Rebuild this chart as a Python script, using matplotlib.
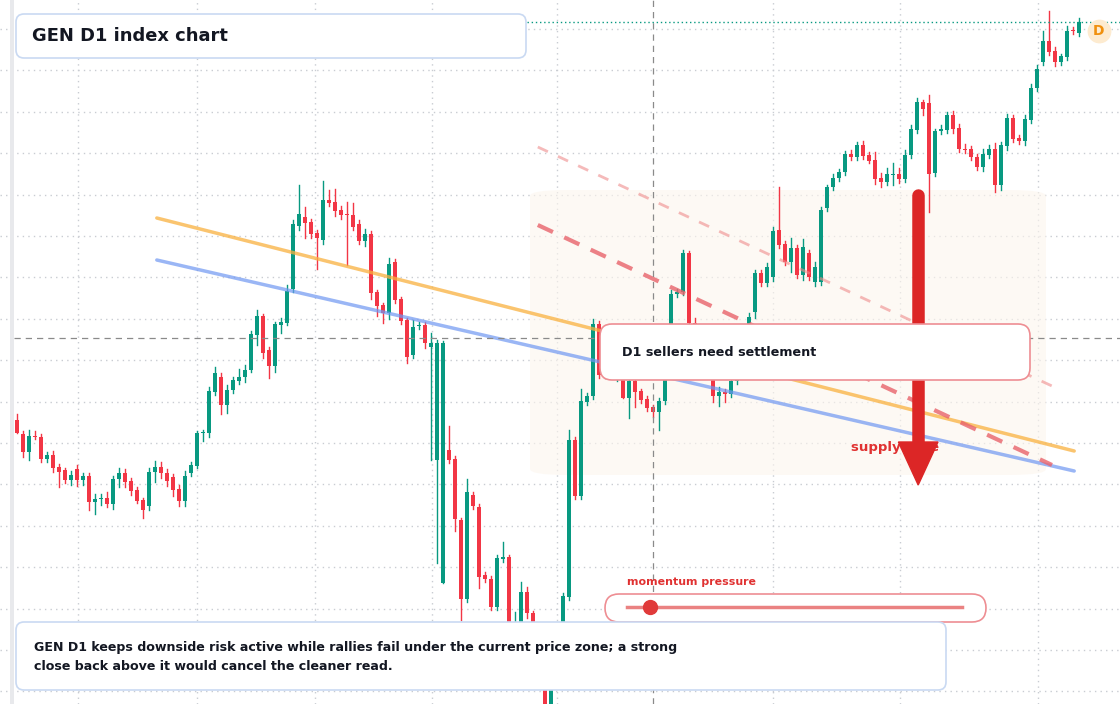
import numpy as np
import matplotlib.pyplot as plt
from matplotlib.patches import FancyBboxPatch, Rectangle

# candle data, one entry per day (price units)
opens = [284,270,252,268,267,245,249,237,234,224, 235,224,228,202,205,206,200,225,231,223,
         214,204,198,232,237,231,227,215,203,231, 238,271,271,312,327,299,314,323,327,334,
         369,388,354,338,379,381,415,478,487,482, 471,464,504,502,494,490,489,480,463,470,
         412,399,391,442,405,384,349,378,379,357, 244,121,254,245,184,105,209,197,129,125,
         97,145,147,74,82,112,91,51,21,-5, 25,67,107,264,208,302,308,380,329,348,
         331,348,306,323,313,305,297,292,303,371, 410,412,451,381,375,347,329,308,312,310,
         323,358,367,392,431,421,427,474,460,442, 456,429,451,422,422,496,517,526,532,550,
         547,559,549,544,526,522,529,530,525,549, 574,602,601,531,573,574,589,576,555,555,
         547,537,549,555,519,558,586,566,563,584, 616,642,663,653,642,647,674,671]
closes = [271,252,268,267,245,249,236,232,224,229, 224,228,202,205,206,200,225,231,222,213,
          203,194,232,237,231,223,214,203,228,239, 271,272,313,331,299,314,324,327,334,370,
          388,351,338,380,382,413,480,490,481,470, 466,504,501,493,489,489,477,463,470,411,
          398,391,440,404,383,347,377,379,361,361, 361,361,244,185,105,212,198,127,125,97,
          146,147,74,82,112,91,58,20,0,25, 67,108,264,208,303,308,380,329,348,331,
          332,306,323,312,304,296,292,303,371,410, 412,451,381,375,331,329,308,312,310,323,
          358,367,387,431,421,437,473,459,442,456, 429,457,427,437,494,517,526,532,550,547,
          559,548,543,525,522,530,529,525,549,575, 602,595,530,573,575,589,575,555,554,547,
          537,550,555,519,559,586,565,563,585,616, 635,663,652,642,648,673,673,682]
wick_up = [6,3,6,5,3,3,4,3,2,4, 4,3,3,5,4,6,3,5,4,3, 3,2,4,6,5,4,3,4,5,3, 2,2,4,6,4,5,3,8,5,3,
           6,2,3,2,4,6,4,29,10,3, 3,19,10,13,4,12,12,4,5,3, 2,2,6,3,2,2,7,3,3,10,
           3,2,24,3,2,13,3,3,3,3, 3,15,2,10,10,5,2,2,2,2, 4,3,10,3,12,3,5,3,3,4,
           8,4,3,3,2,3,2,3,3,4, 3,3,2,5,4,4,3,5,3,4, 3,3,4,3,3,4,4,43,3,10,
           3,8,3,5,3,2,4,3,3,4, 3,4,3,8,5,6,12,6,5,4, 4,2,8,2,4,3,4,4,5,3,
           3,5,4,6,3,4,3,3,4,4, 4,10,30,4,2,5,3,4]
wick_dn = [0,5,8,2,3,3,4,15,3,5, 6,5,8,12,6,3,5,8,5,4, 2,8,4,10,5,5,6,5,5,3, 2,8,4,3,9,8,3,3,5,2,
           10,5,12,6,8,2,3,4,15,4, 31,4,3,5,4,50,3,3,5,6, 10,10,6,3,3,6,3,3,5,113,
           103,0,3,12,21,3,3,11,3,3, 3,3,15,6,3,5,3,3,3,3, 3,3,3,3,3,3,3,3,3,3,
           8,0,20,15,3,3,5,18,3,3, 3,3,10,3,3,3,6,10,8,3, 3,3,3,6,3,3,4,3,3,10,
           3,5,3,4,3,3,3,3,3,3, 3,3,2,5,5,3,10,4,3,3, 3,6,38,3,3,3,4,3,3,3,
           3,4,3,7,5,4,3,3,4,3, 3,3,3,4,3,3,3,3]

grid_x = [10.2, 30, 49.7, 69.2, 90, 126, 147.2, 170.2]
grid_y = [675 - 41.4 * k for k in range(17)]
cross_i, cross_p = 106, 366
last_price = 682

# drawings (index, price)
orange_line = ([23.3, 176.2], [486, 253])
blue_line = ([23.3, 176.2], [444, 233])
red_upper = ([86.8, 172.5], [557, 318])
red_lower = ([86.8, 172.5], [479, 239])
arrow_i, arrow_from, arrow_to = 150.2, 509, 219

GREEN, RED = '#089981', '#f23645'

fig = plt.figure(figsize=(11.2, 7.04), dpi=100)
ax = fig.add_axes([0, 0, 1, 1])
ax.set_xlim(-17 / 6, 1103 / 6)
ax.set_ylim(0, 704)
ax.axis('off')

for gx in grid_x:
    ax.axvline(gx, color='#c9ccd2', lw=1, ls=(0, (1, 3)), zorder=0)
for gy in grid_y:
    ax.axhline(gy, color='#c9ccd2', lw=1, ls=(0, (1, 3)), zorder=0)

# faint zone
ax.add_patch(FancyBboxPatch((85.5, 229), 86, 285, boxstyle='round,pad=0,rounding_size=6',
                            fc='#fdf6ee', ec='none', alpha=0.6, zorder=0.5))

for i, (o, c) in enumerate(zip(opens, closes)):
    col = GREEN if c >= o else RED
    hi = max(o, c) + wick_up[i]
    lo = min(o, c) - wick_dn[i]
    ax.plot([i, i], [lo, hi], color=col, lw=1, zorder=2)
    ax.add_patch(Rectangle((i - 0.36, min(o, c)), 0.72, max(abs(c - o), 1.2),
                           fc=col, ec='none', zorder=2))

ax.plot(*orange_line, color='#f9b13f', lw=2.5, alpha=0.75, zorder=3, solid_capstyle='round')
ax.plot(*blue_line, color='#6f97f2', lw=2.5, alpha=0.7, zorder=3, solid_capstyle='round')
ax.plot(*red_upper, color='#ef8c8c', lw=2, alpha=0.6, ls=(0, (4, 4)), zorder=3)
ax.plot(*red_lower, color='#e8636b', lw=3, alpha=0.8, ls=(0, (4, 3)), zorder=3)

ax.axhline(cross_p, xmin=14 / 1120, color='#8a8a8a', lw=0.9, ls=(0, (5, 4)), zorder=4)
ax.axvline(cross_i, color='#8a8a8a', lw=0.9, ls=(0, (5, 4)), zorder=4)
ax.plot([85, 184], [last_price, last_price], color=GREEN, lw=1, ls=(0, (1, 2)), zorder=4)

# left edge bar
fig.patches.append(Rectangle((10, 0), 4, 704, transform=None, fc='#e8e9ec', ec='none'))

# D badge
ax.scatter([180.3], [673], s=260, color='#fdebd0', zorder=5)
ax.text(180.3, 673, 'D', color='#f0900e', fontsize=10, fontweight='bold', ha='center', va='center', zorder=6)

# arrow
ax.plot([arrow_i, arrow_i], [arrow_from, arrow_to + 40], color='#dc2626', lw=9,
        solid_capstyle='round', zorder=6)
ax.fill([arrow_i - 3.3, arrow_i + 3.3, arrow_i], [arrow_to + 43, arrow_to + 43, arrow_to],
        color='#dc2626', zorder=6)
ax.text(139, 256, 'supply gate', color='#e03131', fontsize=9.5, fontweight='bold', va='center', zorder=5)

def box(x0, y0, x1, y1, ec, fc, alpha, r=10):
    p = FancyBboxPatch((x0, 704 - y1), x1 - x0, y1 - y0, boxstyle=f'round,pad=0,rounding_size={r}',
                       transform=None, fc=fc, ec=ec, lw=1.2, alpha=alpha, zorder=7)
    fig.patches.append(p)

box(600, 324, 1030, 380, '#ee8e93', (1, 1, 1, 0.78), 1, 12)
fig.text(622 / 1120, 1 - 353 / 704, 'D1 sellers need settlement', fontsize=9.2, fontweight='bold',
         color='#131722', va='center', zorder=8)

fig.text(627 / 1120, 1 - 582 / 704, 'momentum pressure', fontsize=7.9, fontweight='bold',
         color='#e03131', va='center')
box(605, 594, 986, 622, '#ee8e93', (1, 1, 1, 0.85), 1, 14)
fig.lines.append(plt.Line2D([627 / 1120, 962 / 1120], [1 - 607 / 704] * 2, transform=fig.transFigure,
                            color='#e87474', lw=2.5, alpha=0.9, zorder=9))
fig.lines.append(plt.Line2D([650 / 1120], [1 - 607 / 704], transform=fig.transFigure, marker='o',
                            ms=10, color='#e03a3a', zorder=10))

box(16, 14, 526, 58, '#c9d9f2', (1, 1, 1, 0.95), 1, 8)
fig.text(32 / 1120, 1 - 36 / 704, 'GEN D1 index chart', fontsize=12.9, fontweight='bold',
         color='#131722', va='center', zorder=8)

box(16, 622, 946, 690, '#c9d9f2', (1, 1, 1, 0.88), 1, 8)
fig.text(34 / 1120, 1 - 657 / 704,
         'GEN D1 keeps downside risk active while rallies fail under the current price zone; a strong\n'
         'close back above it would cancel the cleaner read.',
         fontsize=9.1, fontweight='bold', color='#131722', va='center', linespacing=1.6, zorder=8)

fig.savefig('out.png', dpi=100)
